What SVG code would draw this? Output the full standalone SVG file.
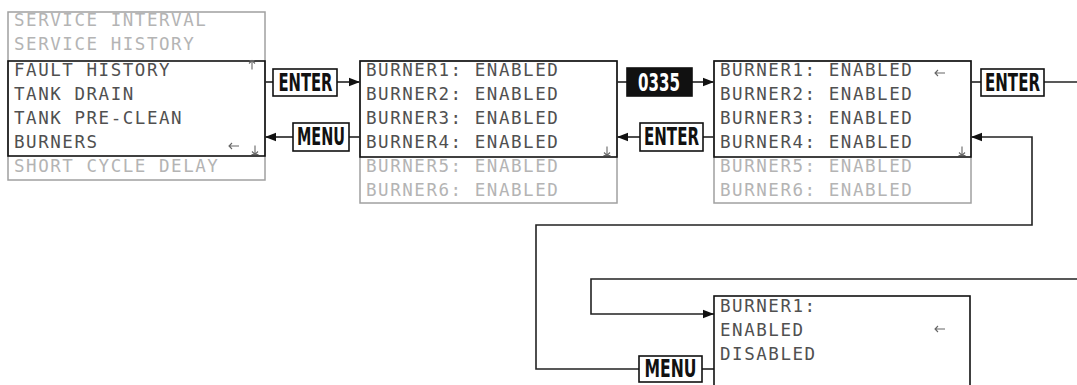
<svg xmlns="http://www.w3.org/2000/svg" width="1077" height="385" viewBox="0 0 1077 385">
<style>
.lcd{font-family:"DejaVu Sans Mono","Liberation Mono",monospace;font-size:17.5px;letter-spacing:1.55px;fill:#505050}
.dim{fill:#b4b4b4}
.ind{fill:none;stroke:#666;stroke-width:1.1}
.outer{fill:#fff;stroke:#a0a0a0;stroke-width:1.5}
.win{fill:none;stroke:#111;stroke-width:1.6}
.btn{fill:#fff;stroke:#111;stroke-width:1.6}
.btnk{fill:#111;stroke:#111;stroke-width:1.6}
.bt{font-family:"Liberation Sans Narrow","DejaVu Sans Condensed","Liberation Sans",sans-serif;font-weight:bold;font-size:24px;text-anchor:middle;fill:#111}
.btw{fill:#fff}
.c{fill:none;stroke:#222;stroke-width:1.6}
.ca{fill:none;stroke:#222;stroke-width:1.6;marker-end:url(#ah)}
</style>
<defs>
<marker id="ah" markerUnits="userSpaceOnUse" markerWidth="12" markerHeight="10" refX="11" refY="5" orient="auto">
<path d="M0,0.8 L11,5 L0,9.2 Z" fill="#111"/>
</marker>
<path id="up" d="M0,-4.5 V4.5 M-3,-1.5 L0,-4.5 L3,-1.5 M-2.5,-4.5 H2.5"/>
<path id="dn" d="M0,-4.5 V4.5 M-3,1.5 L0,4.5 L3,1.5 M-3.5,4.5 H3.5"/>
<path id="lf" d="M-5,0 H5 M-2,-3 L-5,0 L-2,3"/>
</defs>

<g id="connectors">
<line class="c" x1="265" y1="82" x2="273" y2="82"/>
<line class="ca" x1="337" y1="82" x2="360" y2="82"/>
<line class="c" x1="360" y1="137" x2="349" y2="137"/>
<line class="ca" x1="293" y1="137" x2="265" y2="137"/>
<line class="c" x1="617" y1="82" x2="627" y2="82"/>
<line class="ca" x1="692" y1="82" x2="714" y2="82"/>
<line class="c" x1="714" y1="137" x2="703" y2="137"/>
<line class="ca" x1="640" y1="137" x2="617" y2="137"/>
<line class="c" x1="971" y1="82" x2="981" y2="82"/>
<line class="c" x1="1044" y1="82" x2="1078" y2="82"/>
<polyline class="ca" points="1078,279 591,279 591,314 714,314"/>
<line class="c" x1="714" y1="369" x2="702" y2="369"/>
<polyline class="ca" points="639,369 536,369 536,225 1032,225 1032,137 971,137"/>
</g>

<g id="menu-list">
<rect class="outer" x="8" y="12" width="257" height="168"/>
<rect class="win" x="8" y="61" width="257" height="95"/>
<text class="lcd dim" x="14" y="26">SERVICE INTERVAL</text>
<text class="lcd dim" x="14" y="50">SERVICE HISTORY</text>
<text class="lcd" x="14" y="76">FAULT HISTORY</text>
<text class="lcd" x="14" y="100">TANK DRAIN</text>
<text class="lcd" x="14" y="124">TANK PRE-CLEAN</text>
<text class="lcd" x="14" y="148">BURNERS</text>
<text class="lcd dim" x="14" y="172">SHORT CYCLE DELAY</text>
<use class="ind" href="#up" x="252" y="65"/>
<use class="ind" href="#lf" x="234" y="146"/>
<use class="ind" href="#dn" x="255" y="150"/>
</g>

<g id="btn-enter-1">
<rect class="btn" x="273" y="69" width="64" height="27"/>
<text class="bt" x="305.5" y="90.5" textLength="54" lengthAdjust="spacingAndGlyphs">ENTER</text>
</g>
<g id="btn-menu-1">
<rect class="btn" x="293" y="123" width="56" height="28"/>
<text class="bt" x="321" y="145" textLength="48" lengthAdjust="spacingAndGlyphs">MENU</text>
</g>

<g id="burners-view">
<rect class="outer" x="360" y="61" width="257" height="142"/>
<rect class="win" x="360" y="61" width="257" height="96"/>
<text class="lcd" x="366" y="76">BURNER1: ENABLED</text>
<text class="lcd" x="366" y="100">BURNER2: ENABLED</text>
<text class="lcd" x="366" y="124">BURNER3: ENABLED</text>
<text class="lcd" x="366" y="148">BURNER4: ENABLED</text>
<text class="lcd dim" x="366" y="172">BURNER5: ENABLED</text>
<text class="lcd dim" x="366" y="196">BURNER6: ENABLED</text>
<use class="ind" href="#dn" x="607" y="151"/>
</g>

<g id="btn-code">
<rect class="btnk" x="627" y="68" width="65" height="28"/>
<text class="bt btw" x="659" y="90.5" textLength="42" lengthAdjust="spacingAndGlyphs">0335</text>
</g>
<g id="btn-enter-2">
<rect class="btn" x="640" y="123" width="63" height="28"/>
<text class="bt" x="671.5" y="145" textLength="55" lengthAdjust="spacingAndGlyphs">ENTER</text>
</g>

<g id="burners-edit">
<rect class="outer" x="714" y="61" width="257" height="142"/>
<rect class="win" x="714" y="61" width="257" height="96"/>
<text class="lcd" x="720" y="76">BURNER1: ENABLED</text>
<text class="lcd" x="720" y="100">BURNER2: ENABLED</text>
<text class="lcd" x="720" y="124">BURNER3: ENABLED</text>
<text class="lcd" x="720" y="148">BURNER4: ENABLED</text>
<text class="lcd dim" x="720" y="172">BURNER5: ENABLED</text>
<text class="lcd dim" x="720" y="196">BURNER6: ENABLED</text>
<use class="ind" href="#lf" x="940" y="73"/>
<use class="ind" href="#dn" x="962" y="151"/>
</g>

<g id="btn-enter-3">
<rect class="btn" x="981" y="69" width="63" height="27"/>
<text class="bt" x="1012.5" y="90.5" textLength="55" lengthAdjust="spacingAndGlyphs">ENTER</text>
</g>

<g id="burner1-setting">
<rect class="win" x="714" y="296" width="256" height="100"/>
<text class="lcd" x="720" y="312">BURNER1:</text>
<text class="lcd" x="720" y="336">ENABLED</text>
<text class="lcd" x="720" y="360">DISABLED</text>
<use class="ind" href="#lf" x="940" y="329"/>
</g>

<g id="btn-menu-2">
<rect class="btn" x="639" y="356" width="63" height="26"/>
<text class="bt" x="670.5" y="376.5" textLength="52" lengthAdjust="spacingAndGlyphs">MENU</text>
</g>
</svg>
